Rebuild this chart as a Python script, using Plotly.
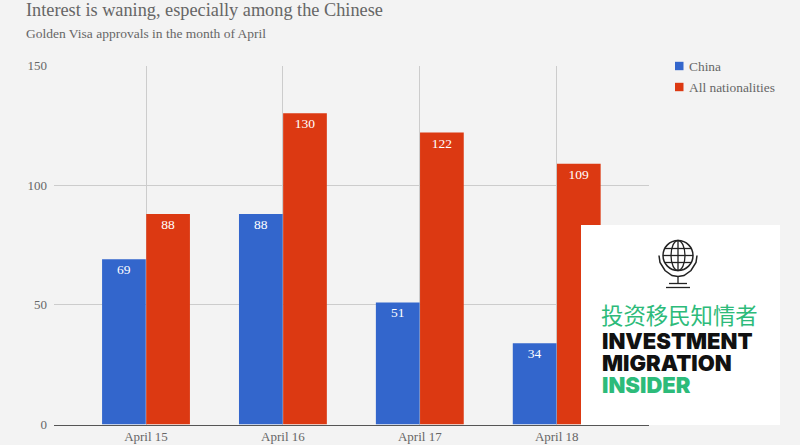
import plotly.graph_objects as go

W, H = 800, 445

months = ["April 15", "April 16", "April 17", "April 18"]
china = [69, 88, 51, 34]
all_nat = [88, 130, 122, 109]
y_ticks = [0, 50, 100, 150]

SERIF = "Liberation Serif"
GREY = "#666666"
GREEN = "#2dbb7a"
BLUE = "#3366cc"
RED = "#dc3912"


def px(x):
    return x / W


def py(y):
    return 1 - y / H


def path_px(points):
    # svg path from pixel points, y flipped to paper coords
    return "M " + " L ".join(f"{px(x):.5f},{py(y):.5f}" for x, y in points)


def line_px(x0, y0, x1, y1, width=1.3, color="#222222"):
    return dict(type="line", xref="paper", yref="paper", layer="above",
                x0=px(x0), y0=py(y0), x1=px(x1), y1=py(y1),
                line=dict(color=color, width=width))


def swatch(y, color):
    return dict(type="rect", xref="paper", yref="paper",
                x0=px(675), x1=px(683.5), y0=py(y - 4.2), y1=py(y + 4.2),
                fillcolor=color, line_width=0)


fig = go.Figure()
fig.add_trace(go.Bar(name="China", x=months, y=china, marker_color=BLUE, text=china))
fig.add_trace(go.Bar(name="All nationalities", x=months, y=all_nat, marker_color=RED, text=all_nat))
fig.update_traces(textposition="inside", insidetextanchor="end", textangle=0,
                  insidetextfont=dict(color="white", size=13.5, family=SERIF),
                  marker_line_width=0, cliponaxis=False)

# logo box, sits over the last red bar
cx, cy, r = 678, 255.5, 15
shapes = [
    swatch(66, BLUE),
    swatch(87, RED),
    dict(type="rect", xref="paper", yref="paper", layer="above",
         x0=px(581), x1=px(780), y0=py(225), y1=py(425),
         fillcolor="white", line_width=0),
    dict(type="circle", xref="paper", yref="paper", layer="above",
         x0=px(cx - r), x1=px(cx + r), y0=py(cy - r), y1=py(cy + r),
         line=dict(color="#222222", width=1.5)),
    dict(type="circle", xref="paper", yref="paper", layer="above",
         x0=px(cx - 7), x1=px(cx + 7), y0=py(cy - r), y1=py(cy + r),
         line=dict(color="#222222", width=1.3)),
    line_px(cx, cy - r, cx, cy + r),
    line_px(cx - r, cy, cx + r, cy),
    line_px(cx - 13, cy - 7, cx + 13, cy - 7),
    line_px(cx - 13, cy + 7, cx + 13, cy + 7),
    line_px(cx, cy + 21, cx, cy + 28),
    line_px(cx - 9, cy + 28, cx + 9, cy + 28),
    line_px(cx - 12, cy + 32, cx + 12, cy + 32),
    dict(type="path", xref="paper", yref="paper", layer="above",
         path=path_px([(cx - 19, cy), (cx - 18, cy + 7), (cx - 13, cy + 15),
                       (cx - 6, cy + 20), (cx, cy + 21), (cx + 6, cy + 20),
                       (cx + 13, cy + 15), (cx + 18, cy + 7), (cx + 19, cy)]),
         line=dict(color="#222222", width=1.5)),
]

annotations = [
    dict(text="Interest is waning, especially among the Chinese", x=px(23.5), y=py(10.5),
         font=dict(size=18.3, color=GREY, family=SERIF)),
    dict(text="Golden Visa approvals in the month of April", x=px(23.5), y=py(34),
         font=dict(size=13.5, color=GREY, family=SERIF)),
    dict(text="China", x=px(687), y=py(66),
         font=dict(size=13.4, color=GREY, family=SERIF)),
    dict(text="All nationalities", x=px(687), y=py(87),
         font=dict(size=13.4, color=GREY, family=SERIF)),
    dict(text="投资移民知情者", x=px(599), y=py(314),
         font=dict(size=22.4, color=GREEN, family="Noto Sans CJK SC")),
    dict(text="INVESTMENT", x=px(600), y=py(341),
         font=dict(size=22, color="#111111", family="Inter", weight=900)),
    dict(text="MIGRATION", x=px(600), y=py(363),
         font=dict(size=22, color="#111111", family="Inter", weight=900)),
    dict(text="INSIDER", x=px(600), y=py(385),
         font=dict(size=22, color=GREEN, family="Inter", weight=900)),
]
for a in annotations:
    a.update(xref="paper", yref="paper", xanchor="left", yanchor="middle",
             showarrow=False, align="left")

fig.update_layout(
    width=W, height=H,
    margin=dict(l=0, r=0, t=0, b=0),
    paper_bgcolor="#f3f3f3",
    plot_bgcolor="#f3f3f3",
    barmode="group",
    bargap=0.355,
    bargroupgap=0.01,
    font=dict(family=SERIF, color=GREY, size=13),
    showlegend=False,
    shapes=shapes,
    annotations=annotations,
)
fig.update_xaxes(domain=[px(54), px(649)], range=[-0.672, 3.674], showgrid=True,
                 gridcolor="#cccccc", gridwidth=1, ticks="", zeroline=False,
                 showline=True, linecolor="#555555", linewidth=1,
                 tickfont=dict(size=13, color=GREY, family=SERIF), automargin=False)
fig.update_yaxes(domain=[py(424.5), py(65.5)], range=[0, 150], tickvals=y_ticks, showgrid=True,
                 gridcolor="#cccccc", gridwidth=1, ticks="", zeroline=False, ticklabelstandoff=6,
                 tickfont=dict(size=13, color=GREY, family=SERIF), automargin=False)

fig.write_html("out.html", config=dict(displayModeBar=False),
               post_script="document.body.style.margin='0';document.body.style.overflow='hidden';")
